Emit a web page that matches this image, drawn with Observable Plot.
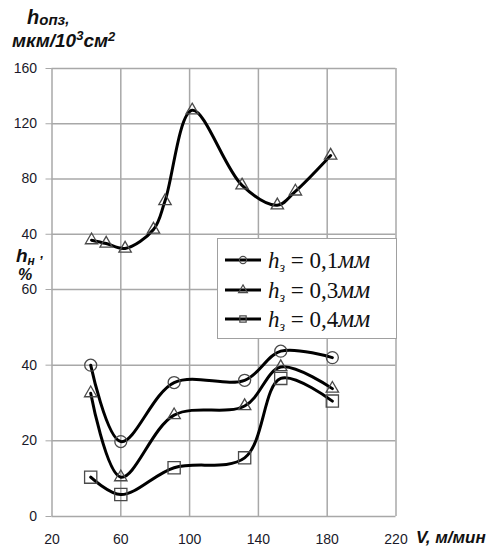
<!DOCTYPE html>
<html>
<head>
<meta charset="utf-8">
<script src="https://cdn.jsdelivr.net/npm/d3@7"></script>
<script src="https://cdn.jsdelivr.net/npm/@observablehq/plot@0.6"></script>
<style>
  body { margin: 0; background: white; }
  #wrap { position: relative; width: 497px; height: 550px; overflow: hidden; font-family: "Liberation Sans", Arial, sans-serif; }
  #wrap svg.layer { position: absolute; left: 0; top: 0; }
  .lbl { position: absolute; font-weight: bold; font-style: italic; color: #111; white-space: nowrap; line-height: 1; }
  #legend { position: absolute; left: 217px; top: 238px; width: 178px; height: 99px; border: 1px solid #a0a0a0; background: white; }
  .lrow { position: absolute; left: 0; height: 26px; width: 178px; }
  .lrow svg { position: absolute; left: 6px; top: 0; }
  .ltxt { position: absolute; left: 50px; top: 0; font-family: "Liberation Serif", "Times New Roman", serif; font-size: 23px; line-height: 26px; color: #111; white-space: nowrap; }
</style>
</head>
<body>
<div id="wrap"></div>
<script>
// ---- data ----
const xTicks = [20, 60, 100, 140, 180, 220];
const yTicksUpper = [40, 80, 120, 160];
const yTicksLower = [0, 20, 40, 60];

// upper panel: h_ОПЗ, мкм/10^3 см^2 (triangles)
const V_upper = [43, 51.5, 62.5, 79, 85.7, 101.5, 130.5, 151, 161.5, 182];
const h_opz = [35.7, 33.3, 29.7, 43.4, 64, 129.7, 75.4, 61, 71, 97];

// lower panel: h_н, %
const V_lower = [42.5, 60, 91, 132, 153, 183];
const h_01 = [40, 19.8, 35.4, 36, 43.7, 42];     // h_з = 0,1 мм (circles)
const h_03 = [32.6, 10.4, 26.8, 29.2, 39.5, 33.8]; // h_з = 0,3 мм (triangles)
const h_04 = [10.4, 5.8, 12.9, 15.5, 36.5, 30.5];  // h_з = 0,4 мм (squares)

const seriesNames = ["0,1", "0,3", "0,4"];
const seriesSymbols = ["circle", "triangle", "square"];

// ---- build tables ----
const upperData = V_upper.map((v, i) => ({V: v, h: h_opz[i]}));
const lowerSeries = [h_01, h_03, h_04].map((arr, s) =>
  V_lower.map((v, i) => ({V: v, h: arr[i], s: seriesNames[s]})));

const GRID = "#a8a8a8";
const TXT = "#1a1a2a";
const MARK = "#4a4a4a";
const rFor = {circle: 6, triangle: 4.6, square: 6.9};

const W = 497, H = 550, ML = 51.5, MR = 101.5;

const lowerMarks = [
  Plot.gridX(xTicks, {stroke: GRID, strokeOpacity: 1, strokeWidth: 1.5}),
  Plot.gridY(yTicksLower, {stroke: GRID, strokeOpacity: 1, strokeWidth: 1.5}),
  Plot.axisY(yTicksLower, {tickSize: 6, tickPadding: 9, stroke: GRID, fill: TXT, label: null, fontSize: 14}),
  Plot.axisX(xTicks, {tickSize: 0, tickPadding: 18, fill: TXT, label: null, fontSize: 14})
];
lowerSeries.forEach((d, s) => {
  lowerMarks.push(Plot.line(d, {x: "V", y: "h", curve: "catmull-rom", stroke: "black", strokeWidth: 3}));
  lowerMarks.push(Plot.dot(d, {x: "V", y: "h", symbol: seriesSymbols[s], r: rFor[seriesSymbols[s]], stroke: MARK, strokeWidth: 1.3, fill: "none"}));
});

const lower = Plot.plot({
  width: W, height: H,
  marginLeft: ML, marginRight: MR, marginTop: 289, marginBottom: 34,
  x: {domain: [20, 220], axis: null},
  y: {domain: [0, 60], axis: null},
  style: {fontFamily: "'Liberation Sans', Arial, sans-serif", fontSize: "14px", background: "white"},
  marks: lowerMarks
});

const upper = Plot.plot({
  width: W, height: H,
  marginLeft: ML, marginRight: MR, marginTop: 68, marginBottom: 261,
  x: {domain: [20, 220], axis: null},
  y: {domain: [0, 160], axis: null},
  style: {fontFamily: "'Liberation Sans', Arial, sans-serif", fontSize: "14px", background: "transparent"},
  marks: [
    Plot.gridX(xTicks, {stroke: GRID, strokeOpacity: 1, strokeWidth: 1.5}),
    Plot.gridY(yTicksUpper, {stroke: GRID, strokeOpacity: 1, strokeWidth: 1.5}),
    Plot.axisY(yTicksUpper, {tickSize: 6, tickPadding: 9, stroke: GRID, fill: TXT, label: null, fontSize: 14}),
    Plot.line(upperData, {x: "V", y: "h", curve: "catmull-rom", stroke: "black", strokeWidth: 3}),
    Plot.dot(upperData, {x: "V", y: "h", symbol: "triangle", r: rFor.triangle, stroke: MARK, strokeWidth: 1.3, fill: "none"})
  ]
});

const wrap = document.getElementById("wrap");
lower.classList.add("layer");
upper.classList.add("layer");
wrap.appendChild(lower);
wrap.appendChild(upper);

// ---- text labels ----
function addLabel(html, left, top, size) {
  const d = document.createElement("div");
  d.className = "lbl";
  d.style.left = left + "px";
  d.style.top = top + "px";
  d.style.fontSize = size + "px";
  d.innerHTML = html;
  wrap.appendChild(d);
}
addLabel('h<span style="font-size:15px;position:relative;top:1px">опз</span><span style="font-size:15px">,</span>', 27, 7, 20);
addLabel('мкм/10<span style="font-size:13px;position:relative;top:-7px">3</span>см<span style="font-size:13px;position:relative;top:-6px">2</span>', 12, 31, 19);
addLabel('h<span style="font-size:12px;position:relative;top:3px">н</span> <span style="font-size:13px;position:relative;top:-4px">,</span>', 16, 246, 19);
addLabel('%', 18, 267, 16);
addLabel('V, м/мин', 416, 529, 17);

// ---- legend ----
const legend = document.createElement("div");
legend.id = "legend";
const rowTops = [8, 38, 67];
seriesSymbols.forEach((sym, i) => {
  const row = document.createElement("div");
  row.className = "lrow";
  row.style.top = rowTops[i] + "px";
  const ns = "http://www.w3.org/2000/svg";
  const svg = document.createElementNS(ns, "svg");
  svg.setAttribute("width", 40); svg.setAttribute("height", 26);
  const ln = document.createElementNS(ns, "line");
  ln.setAttribute("x1", 1); ln.setAttribute("x2", 37); ln.setAttribute("y1", 13); ln.setAttribute("y2", 13);
  ln.setAttribute("stroke", "black"); ln.setAttribute("stroke-width", 3);
  svg.appendChild(ln);
  const p = document.createElementNS(ns, "path");
  p.setAttribute("d", d3.symbol(sym === "circle" ? d3.symbolCircle : sym === "triangle" ? d3.symbolTriangle : d3.symbolSquare, sym === "triangle" ? 34 : 40)());
  p.setAttribute("transform", "translate(19,13)");
  p.setAttribute("fill", "none"); p.setAttribute("stroke", MARK); p.setAttribute("stroke-width", 1.2);
  svg.appendChild(p);
  row.appendChild(svg);
  const t = document.createElement("div");
  t.className = "ltxt";
  t.innerHTML = '<i>h</i><sub style="font-size:14px;position:relative;top:-2px"><i>з</i></sub>&nbsp;=&nbsp;' + seriesNames[i] + '<i style="font-size:25px">мм</i>';
  row.appendChild(t);
  legend.appendChild(row);
});
wrap.appendChild(legend);
</script>
</body>
</html>
